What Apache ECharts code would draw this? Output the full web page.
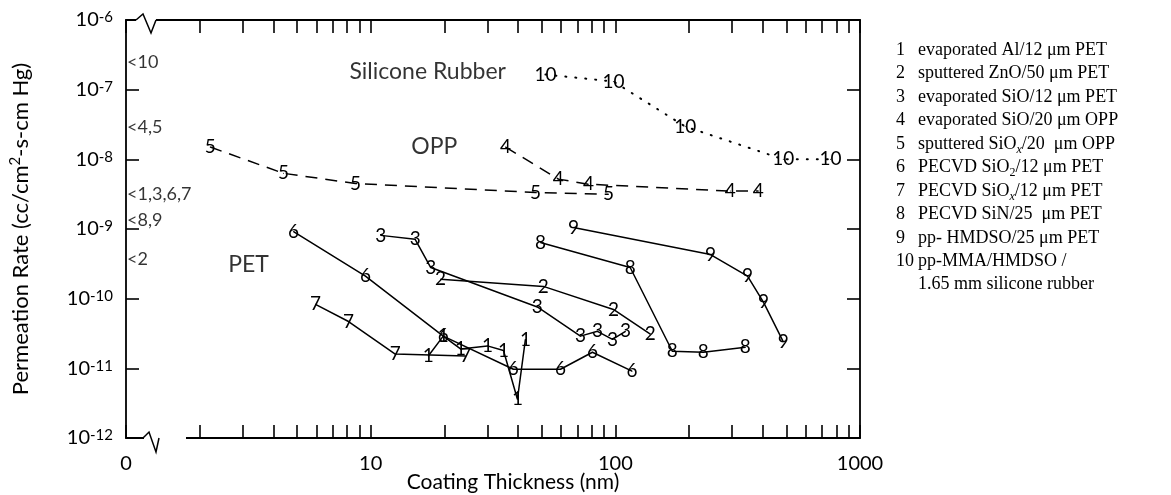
<html>
<head>
    <script src="https://cdn.jsdelivr.net/npm/echarts@6.0.0/dist/echarts.min.js"></script>
    <style>
        body { margin: 0; background: #fff; }
        #chart { width: 1171px; height: 495px; }
    </style>
</head>
<body>
    <div id="chart"></div>
    <script>
        // coating thickness (nm) and permeation rate for each numbered film
        const seriesIds = ['1', '2', '3', '4', '5', '6', '7', '8', '9', '10'];
        const x1 = [17.2, 19.8, 23.3, 30, 34.9, 39.8, 42.9];
        const y1 = [1.5e-11, 2.9e-11, 1.9e-11, 2.1e-11, 1.8e-11, 3.6e-12, 2.6e-11];
        const x2 = [19.3, 50.8, 98.2, 139];
        const y2 = [1.9e-10, 1.5e-10, 7.0e-11, 3.1e-11];
        const x3 = [11, 15.2, 17.6, 48, 72, 84.5, 97.3, 110];
        const y3 = [8.1e-10, 7.1e-10, 2.8e-10, 7.6e-11, 2.9e-11, 3.4e-11, 2.6e-11, 3.4e-11];
        const x4 = [35.6, 58.5, 77.6, 295, 384];
        const y4 = [1.5e-8, 5.2e-9, 4.4e-9, 3.5e-9, 3.5e-9];
        const x5 = [2.21, 4.4, 8.67, 47.2, 93.7];
        const y5 = [1.5e-8, 6.3e-9, 4.5e-9, 3.35e-9, 3.15e-9];
        const x6 = [4.84, 9.52, 19.8, 38.3, 59.7, 80.6, 117];
        const y6 = [9.2e-10, 2.1e-10, 2.9e-11, 9.7e-12, 9.7e-12, 1.7e-11, 9.1e-12];
        const x7 = [5.95, 8.12, 12.6, 24.4];
        const y7 = [8.3e-11, 4.7e-11, 1.6e-11, 1.5e-11];
        const x8 = [49.4, 115, 171, 229, 340];
        const y8 = [6.4e-10, 2.8e-10, 1.76e-11, 1.7e-11, 2.0e-11];
        const x9 = [67.4, 245, 347, 403, 486];
        const y9 = [1.05e-9, 4.3e-10, 2.1e-10, 8.9e-11, 2.4e-11];
        const x10 = [51.8, 98.2, 193, 486, 757];
        const y10 = [1.65e-7, 1.31e-7, 2.96e-8, 1.0e-8, 1.0e-8];

        const xs = [x1, x2, x3, x4, x5, x6, x7, x8, x9, x10];
        const ys = [y1, y2, y3, y4, y5, y6, y7, y8, y9, y10];

        // uncoated substrate levels marked on the left axis
        const substrateTags = ['<10', '<4,5', '<1,3,6,7', '<8,9', '<2'];
        const substrateRates = [2.5e-7, 2.9e-8, 3.2e-9, 1.35e-9, 3.7e-10];

        const regionNames = ['Silicone Rubber', 'OPP', 'PET'];
        const regionX = [17.1, 18.2, 3.17];
        const regionY = [1.82e-7, 1.53e-8, 3.1e-10];

        const legendLabels = [
            'evaporated Al/12 μm PET',
            'sputtered ZnO/50 μm PET',
            'evaporated SiO/12 μm PET',
            'evaporated SiO/20 μm OPP',
            'sputtered SiO{sx|x}/20  μm OPP',
            'PECVD SiO{s2|2}/12 μm PET',
            'PECVD SiO{sx|x}/12 μm PET',
            'PECVD SiN/25  μm PET',
            'pp- HMDSO/25 μm PET',
            'pp-MMA/HMDSO /\n{n| }1.65 mm silicone rubber'
        ];

        const xTicks = [1, 10, 100, 1000];

        const sans = 'Lato';
        const serif = 'Liberation Serif';

        const chart = echarts.init(document.getElementById('chart'));

        const lineTypes = { '4': [12, 8], '5': [12, 8], '10': [1, 9] };

        const dataSeries = seriesIds.map((id, i) => ({
            name: id,
            type: 'line',
            data: xs[i].map((x, j) => [x, ys[i][j]]),
            symbol: 'circle',
            symbolSize: 1,
            itemStyle: { color: '#000' },
            lineStyle: {
                color: '#000',
                width: id === '10' ? 2 : 1.5,
                type: lineTypes[id] || 'solid',
                cap: id === '10' ? 'round' : 'butt'
            },
            label: {
                show: true,
                position: 'inside',
                formatter: id,
                color: '#000',
                fontFamily: sans,
                fontSize: 19
            },
            emphasis: { disabled: true },
            z: 3
        }));

        const axisCommon = {
            type: 'log',
            logBase: 10,
            axisLine: { lineStyle: { color: '#000', width: 1.8 } },
            splitLine: { show: false },
            axisTick: { inside: true, length: 13, lineStyle: { color: '#000', width: 1.6 } }
        };

        const option = {
            animation: false,
            backgroundColor: '#fff',
            grid: { left: 126, right: 311, top: 20, bottom: 57, outerBoundsMode: 'none' },
            legend: {
                orient: 'vertical',
                left: 886,
                top: 34,
                icon: 'none',
                itemWidth: 0,
                itemHeight: 14,
                itemGap: 1,
                selectedMode: false,
                data: seriesIds,
                formatter: (name) => '{n|' + name + '}' + legendLabels[seriesIds.indexOf(name)],
                textStyle: {
                    fontFamily: serif,
                    fontSize: 18,
                    color: '#000',
                    lineHeight: 22.5,
                    rich: {
                        n: { width: 22, fontFamily: serif, fontSize: 18, lineHeight: 22.5, color: '#000' },
                        sx: { fontFamily: serif, fontSize: 12, fontStyle: 'italic', verticalAlign: 'bottom', lineHeight: 14, color: '#000' },
                        s2: { fontFamily: serif, fontSize: 12, verticalAlign: 'bottom', lineHeight: 14, color: '#000' }
                    }
                }
            },
            xAxis: [{
                ...axisCommon,
                min: 1,
                max: 1000,
                position: 'bottom',
                minorTick: { show: true, splitNumber: 9, length: 13, lineStyle: { color: '#000', width: 1.6 } },
                axisLabel: {
                    margin: 16,
                    color: '#000',
                    fontFamily: sans,
                    fontSize: 20,
                    customValues: xTicks,
                    formatter: (v) => (Math.round(v) === 1 ? '0' : String(Math.round(v)))
                },
                name: 'Coating Thickness (nm)',
                nameLocation: 'middle',
                nameGap: 34,
                nameMoveOverlap: false,
                nameTextStyle: { color: '#000', fontFamily: sans, fontSize: 21, padding: [0, 0, 0, 40] }
            }, {
                ...axisCommon,
                min: 1,
                max: 1000,
                position: 'top',
                minorTick: { show: true, splitNumber: 9, length: 13, lineStyle: { color: '#000', width: 1.6 } },
                axisLabel: { show: false }
            }],
            yAxis: [{
                ...axisCommon,
                min: 1e-12,
                max: 1e-6,
                position: 'left',
                axisLabel: {
                    margin: 13,
                    color: '#000',
                    fontFamily: sans,
                    fontSize: 20,
                    formatter: (v) => '10{s|' + Math.round(Math.log10(v)) + '}',
                    rich: {
                        s: { fontFamily: sans, fontSize: 15, verticalAlign: 'top', lineHeight: 13, color: '#000' }
                    }
                },
                name: 'Permeation Rate (cc/cm{s|2}-s-cm Hg)',
                nameLocation: 'middle',
                nameGap: 92,
                nameMoveOverlap: false,
                nameTextStyle: {
                    color: '#000',
                    fontFamily: sans,
                    fontSize: 22,
                    lineHeight: 26,
                    rich: { s: { fontFamily: sans, fontSize: 15, verticalAlign: 'top', lineHeight: 13, color: '#000' } }
                }
            }, {
                ...axisCommon,
                min: 1e-12,
                max: 1e-6,
                position: 'right',
                axisLabel: { show: false }
            }],
            series: [
                ...dataSeries,
                {
                    type: 'scatter',
                    symbolSize: 0,
                    data: substrateRates.map((v, i) => [1, v, substrateTags[i]]),
                    label: {
                        show: true,
                        position: 'right',
                        distance: 1,
                        formatter: (p) => p.data[2],
                        color: '#000',
                        fontFamily: sans,
                        fontSize: 18
                    },
                    emphasis: { disabled: true },
                    clip: false
                },
                {
                    type: 'scatter',
                    symbolSize: 0,
                    data: regionNames.map((n, i) => [regionX[i], regionY[i], n]),
                    label: {
                        show: true,
                        position: 'inside',
                        formatter: (p) => p.data[2],
                        color: '#000',
                        fontFamily: sans,
                        fontSize: 23
                    },
                    emphasis: { disabled: true }
                }
            ]
        };

        chart.setOption(option);

        // axis break marks near the left end of the x axis
        const gl = 126, gt = 20, gb = 438;
        chart.setOption({
            graphic: [
                { type: 'rect', shape: { x: gl + 18, y: gb - 4, width: 42, height: 8 }, style: { fill: '#fff' }, z: 100 },
                { type: 'rect', shape: { x: gl + 10, y: gt - 4, width: 20, height: 8 }, style: { fill: '#fff' }, z: 100 },
                {
                    type: 'polyline', z: 101,
                    shape: { points: [[gl + 17, gb], [gl + 23, gb - 6], [gl + 30, gb + 14], [gl + 33, gb]] },
                    style: { stroke: '#000', lineWidth: 1.5, fill: null }
                },
                {
                    type: 'polyline', z: 101,
                    shape: { points: [[gl + 10, gt], [gl + 17, gt - 6], [gl + 25, gt + 13], [gl + 30, gt]] },
                    style: { stroke: '#000', lineWidth: 1.5, fill: null }
                }
            ]
        });
    </script>
</body>
</html>
